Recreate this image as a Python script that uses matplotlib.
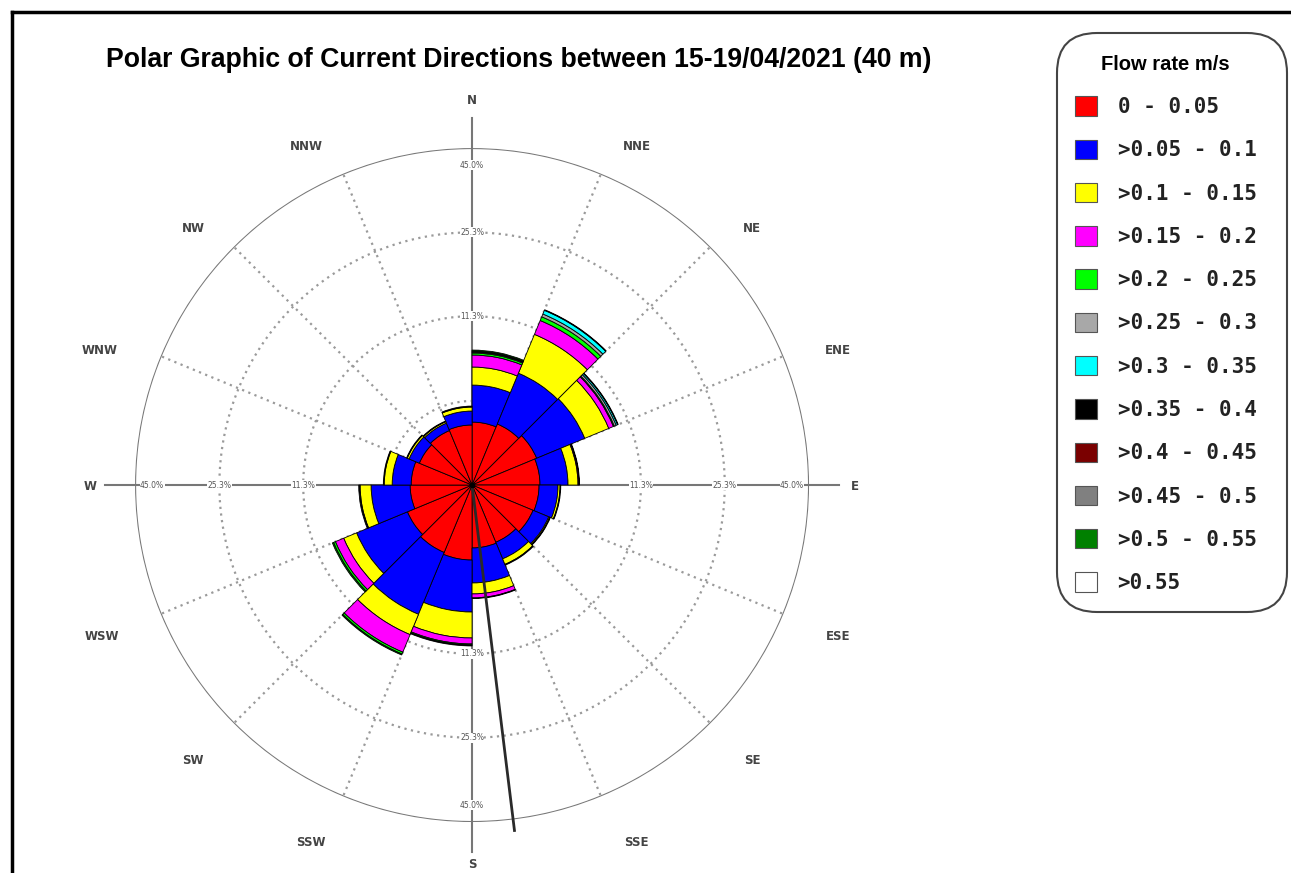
import numpy as np
import matplotlib.pyplot as plt
from matplotlib.patches import Patch, FancyBboxPatch
from matplotlib.lines import Line2D
from matplotlib.transforms import IdentityTransform

# 16 direction sectors (22.5 deg each, starting at the bearing)
sector_start = np.arange(16) * 22.5

# frequency (%) per sector for each flow-rate class
red = [1.57, 1.73, 1.94, 1.83, 1.78, 1.73, 1.52, 1.57, 2.23, 2.11, 1.94, 1.52, 1.47, 1.29, 1.38, 1.43]
blue = [2.39, 4.08, 3.96, 1.82, 1.15, 1.00, 1.01, 2.23, 4.16, 5.65, 4.25, 2.52, 1.06, 0.55, 0.40, 0.74]
yellow = [1.56, 4.73, 2.78, 0.80, 0.14, 0.07, 0.39, 0.90, 2.88, 2.63, 1.46, 0.93, 0.53, 0.11, 0.08, 0.24]
magenta = [1.18, 2.03, 0.60, 0.08, 0, 0, 0, 0.35, 0.74, 2.58, 1.02, 0, 0, 0, 0, 0]
green = [0.21, 0.57, 0.12, 0, 0, 0, 0, 0, 0.13, 0.29, 0.24, 0, 0, 0, 0, 0]
grey = [0.10, 0.44, 0.25, 0, 0, 0, 0, 0, 0, 0, 0, 0, 0, 0, 0, 0]
cyan = [0, 0.59, 0.19, 0, 0, 0, 0, 0, 0, 0, 0, 0, 0, 0, 0, 0]
black = [0.10, 0.10, 0.08, 0.05, 0.05, 0.05, 0.06, 0.06, 0.12, 0, 0, 0.12, 0.06, 0.04, 0.04, 0.06]
maroon = [0] * 16
dgrey = [0] * 16
dgreen = [0.11, 0, 0, 0, 0, 0, 0, 0, 0, 0.15, 0.15, 0, 0, 0, 0, 0]
white = [0] * 16

layers = [red, blue, yellow, magenta, green, grey, cyan, black, maroon, dgrey, dgreen, white]
classes = ['0 - 0.05', '>0.05 - 0.1', '>0.1 - 0.15', '>0.15 - 0.2', '>0.2 - 0.25',
           '>0.25 - 0.3', '>0.3 - 0.35', '>0.35 - 0.4', '>0.4 - 0.45', '>0.45 - 0.5',
           '>0.5 - 0.55', '>0.55']
colors = ['#ff0000', '#0000ff', '#ffff00', '#ff00ff', '#00ff00', '#a8a8a8',
          '#00ffff', '#000000', '#7a0000', '#808080', '#008000', '#ffffff']

rings = [2.8, 11.3, 25.3, 45.0]
ring_labels = ['11.3%', '25.3%', '45.0%']
compass = ['N', 'NNE', 'NE', 'ENE', 'E', 'ESE', 'SE', 'SSE',
           'S', 'SSW', 'SW', 'WSW', 'W', 'WNW', 'NW', 'NNW']
# label positions in pixels (x, y from top)
compass_pos = [(472, 100), (637, 146), (752, 228), (838, 350), (855, 487), (838, 637),
               (752, 760), (636, 843), (472, 865), (311, 843), (193, 760), (102, 637),
               (90, 487), (100, 350), (193, 228), (306, 146)]
mean_dir = 173.0
mean_len = 48.0

W, H = 1291, 873
fig = plt.figure(figsize=(12.91, 8.73), dpi=100)
fig.set_facecolor('white')
ax = fig.add_axes([0.1046, 0.0584, 0.5221, 0.7720], projection='polar')
ax.set_theta_zero_location('N')
ax.set_theta_direction(-1)
rmax = np.sqrt(45.0)
ax.set_ylim(0, rmax)
ax.axis('off')

# grid (square-root radial scale)
th = np.linspace(0, 2 * np.pi, 500)
for v in rings[:-1]:
    ax.plot(th, np.full_like(th, np.sqrt(v)), ls=(0, (1, 2)), color='#9a9a9a', lw=1.6, zorder=1)
ax.plot(th, np.full_like(th, rmax), color='#777777', lw=1.5, zorder=1)
for i, b in enumerate(np.arange(16) * 22.5):
    t = np.radians(b)
    if i % 4 == 0:
        ax.plot([t, t], [0, np.sqrt(53.5)], color='#777777', lw=1.5, zorder=1, clip_on=False)
    else:
        ax.plot([t, t], [0, rmax], ls=(0, (1, 2)), color='#9a9a9a', lw=1.6, zorder=1)

for lab, (px, py) in zip(compass, compass_pos):
    fig.text(px / W, 1 - py / H, lab, ha='center', va='center', fontsize=8.5,
             fontweight='bold', color='#444444')

for b in [0, 90, 180, 270]:
    t = np.radians(b)
    for v, lab in zip([np.sqrt(11.3), np.sqrt(25.3), 6.37], ring_labels):
        ax.text(t, v, lab, ha='center', va='center', fontsize=5.5, color='#555555', zorder=2,
                bbox=dict(facecolor='white', edgecolor='none', pad=0.3))

# stacked bars
cum = np.zeros(16)
for vals, col in zip(layers, colors):
    vals = np.array(vals, dtype=float)
    top = cum + vals
    m = vals > 0
    if m.any():
        ax.bar(np.radians(sector_start[m]), np.sqrt(top[m]) - np.sqrt(cum[m]),
               width=np.radians(22.5), bottom=np.sqrt(cum[m]), align='edge',
               color=col, edgecolor='black', lw=0.6, zorder=3)
    cum = top

# mean direction line
ax.plot([np.radians(mean_dir)] * 2, [0, np.sqrt(mean_len)], color='#2a2a2a', lw=2,
        zorder=4, clip_on=False)
ax.plot(0, 0, 'o', ms=3, color='black', zorder=5)

fig.text(519 / W, 1 - 60 / H,
         'Polar Graphic of Current Directions between 15-19/04/2021 (40 m)',
         ha='center', va='center', fontsize=19.2, fontweight='bold', family='Liberation Sans')

# outer frame
fig.add_artist(Line2D([12 / W, 12 / W], [0, 1 - 12 / H], color='black', lw=2.5))
fig.add_artist(Line2D([12 / W, 1], [1 - 12 / H, 1 - 12 / H], color='black', lw=2.5))

# legend frame (rounded box)
fig.add_artist(FancyBboxPatch((1057, H - 612), 230, 579,
                              boxstyle='round,pad=0,rounding_size=40',
                              transform=IdentityTransform(), facecolor='white',
                              edgecolor='#444444', lw=1.5))

handles = [Patch(facecolor=c, edgecolor='#555555', lw=0.8) for c in colors]
leg = fig.legend(handles=handles, labels=classes, loc='upper left',
                 bbox_to_anchor=(1053 / W, 1 - 33 / H), borderaxespad=0,
                 title='Flow rate m/s',
                 prop=dict(family='DejaVu Sans Mono', weight='bold', size=15),
                 title_fontproperties=dict(family='Liberation Sans', weight='bold', size=14.5),
                 handlelength=1.05, handleheight=1.05, handletextpad=1.0,
                 labelspacing=1.08, borderpad=1.05, frameon=False)
for t in leg.get_texts():
    t.set_color('#222222')

fig.savefig('out.png', dpi=100)
